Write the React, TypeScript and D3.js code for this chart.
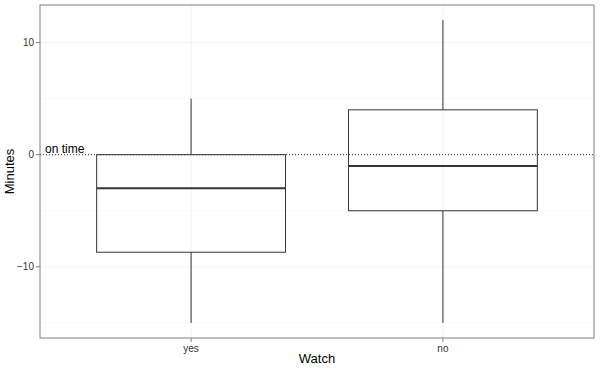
import * as d3 from 'd3';
import React from 'react';

const categories = ['yes', 'no'];
const whiskerLow = [-15, -15];
const q1 = [-8.7, -5];
const median = [-3, -1];
const q3 = [0, 4];
const whiskerHigh = [5, 12];
const majorTicks = [10, 0, -10];
const minorTicks = [5, -5, -15];

const width = 600;
const height = 369;
const margin = { top: 5, right: 6, bottom: 31, left: 40 };
const font = '"Liberation Sans", Arial, sans-serif';

function App() {
  const w = width - margin.left - margin.right;
  const h = height - margin.top - margin.bottom;

  // discrete scale, expanded by 0.6 of a step on each side (ggplot default)
  const x = d3.scalePoint<string>().domain(categories).range([0, w]).padding(0.6);
  const boxW = 0.75 * x.step();

  const lo = d3.min(whiskerLow)!;
  const hi = d3.max(whiskerHigh)!;
  const pad = (hi - lo) * 0.05;
  const y = d3.scaleLinear().domain([lo - pad, hi + pad]).range([h, 0]);

  return (
    <svg width={width} height={height} style={{ position: 'absolute', left: 0, top: 0, fontFamily: font }}>
      <rect width={width} height={height} fill="#fff" />
      <g transform={`translate(${margin.left},${margin.top})`}>
        {minorTicks.map((t) => (
          <line key={'mn' + t} x1={0} x2={w} y1={y(t)} y2={y(t)} stroke="#f7f7f7" strokeWidth={0.6} />
        ))}
        {majorTicks.map((t) => (
          <line key={'mj' + t} x1={0} x2={w} y1={y(t)} y2={y(t)} stroke="#ebebeb" strokeWidth={0.6} />
        ))}
        {categories.map((c) => (
          <line key={'vg' + c} x1={x(c)} x2={x(c)} y1={0} y2={h} stroke="#ebebeb" strokeWidth={0.6} />
        ))}

        <line x1={0} x2={w} y1={y(0)} y2={y(0)} stroke="#333" strokeWidth={1} strokeDasharray="1,2" />
        <text x={5} y={y(0) - 1.5} fontSize={12} fill="#000">on time</text>

        {categories.map((c, i) => {
          const cx = x(c)!;
          return (
            <g key={c} stroke="#333" fill="none">
              <line x1={cx} x2={cx} y1={y(whiskerHigh[i])} y2={y(q3[i])} strokeWidth={1} />
              <line x1={cx} x2={cx} y1={y(q1[i])} y2={y(whiskerLow[i])} strokeWidth={1} />
              <rect x={cx - boxW / 2} y={y(q3[i])} width={boxW} height={y(q1[i]) - y(q3[i])} fill="none" strokeWidth={1} />
              <line x1={cx - boxW / 2} x2={cx + boxW / 2} y1={y(median[i])} y2={y(median[i])} strokeWidth={2} />
            </g>
          );
        })}

        <rect x={0} y={0} width={w} height={h} fill="none" stroke="#7f7f7f" strokeWidth={1} />

        {majorTicks.map((t) => (
          <g key={'yt' + t}>
            <line x1={-4} x2={0} y1={y(t)} y2={y(t)} stroke="#7f7f7f" />
            <text x={-6} y={y(t)} dy="0.35em" textAnchor="end" fontSize={10} fill="#333">
              {t < 0 ? '\u2212' + Math.abs(t) : String(t)}
            </text>
          </g>
        ))}
        {categories.map((c) => (
          <g key={'xt' + c}>
            <line x1={x(c)} x2={x(c)} y1={h} y2={h + 4} stroke="#7f7f7f" />
            <text x={x(c)} y={h + 14} textAnchor="middle" fontSize={10} fill="#333">{c}</text>
          </g>
        ))}
      </g>
      <text x={margin.left + w / 2} y={363} textAnchor="middle" fontSize={13} fill="#000">Watch</text>
      <text transform={`translate(14,${margin.top + h / 2}) rotate(-90)`} textAnchor="middle" fontSize={13} fill="#000">Minutes</text>
    </svg>
  );
}

export default App;
